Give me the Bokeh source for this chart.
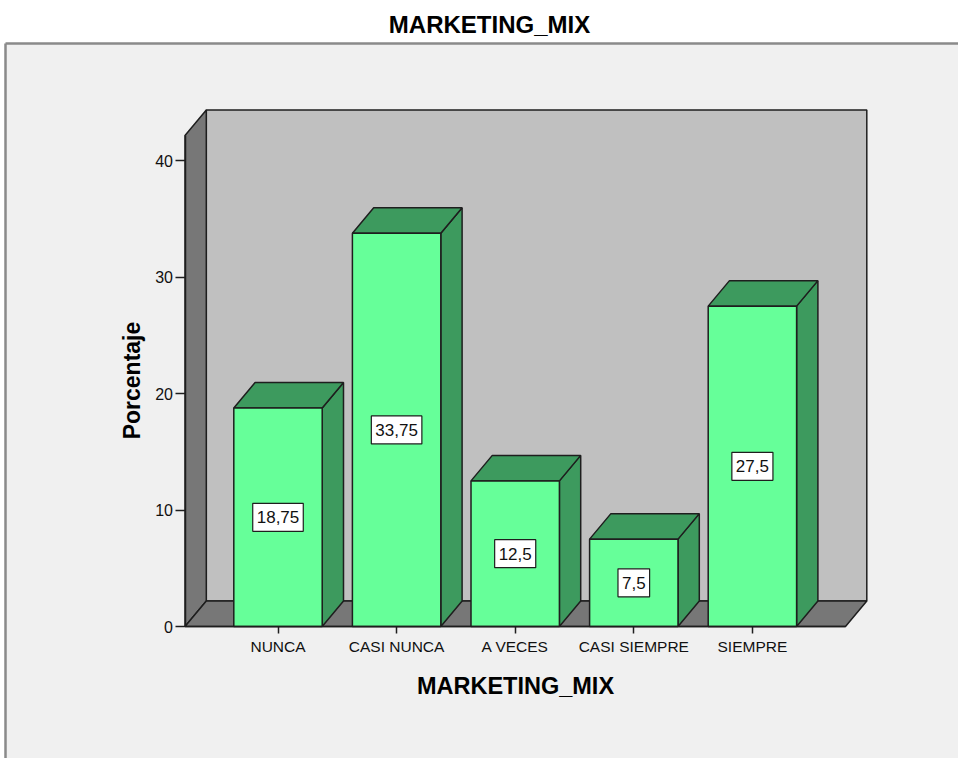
import numpy as np
from bokeh.plotting import figure
from bokeh.models import Range1d, LinearAxis, FixedTicker
from bokeh.core.properties import value
from bokeh.embed import file_html
from bokeh.resources import INLINE

# ---- data -------------------------------------------------------------
categories = ["NUNCA", "CASI NUNCA", "A VECES", "CASI SIEMPRE", "SIEMPRE"]
percentages = [18.75, 33.75, 12.5, 7.5, 27.5]
y_ticks = [0, 10, 20, 30, 40]
chart_title = "MARKETING_MIX"
x_title = "MARKETING_MIX"
y_title = "Porcentaje"

# ---- layout constants (pixel geometry of the canvas) -------------------
W, H = 958, 758
X0, SX = 277.5, 118.6      # pixel of first category, pixels per category
Y0, SY = 626.0, 11.65      # pixel of value 0, pixels per percent unit


def dx(px):
    return (px - X0) / SX


def dy(py):
    return (Y0 - py) / SY


FONT = value("Liberation Sans")
EDGE = "#1e1e1e"
FRONT = "#66FF99"
DARK = "#3D9A5E"
BACK = "#C0C0C0"
WALL = "#777777"
BG = "#F0F0F0"

DEPTH_X = 21.3 / SX
DEPTH_Y = 25.5 / SY
HW = 44.2 / SX
XL, XR = dx(184.5), dx(845.0)
YT = dy(135.0)

p = figure(width=W, height=H, x_range=Range1d(dx(0), dx(W)), y_range=Range1d(dy(H), dy(0)),
           x_axis_type=None, y_axis_type=None, min_border=0, toolbar_location=None,
           output_backend="svg", title=None, outline_line_color=None,
           background_fill_color="white", border_fill_color="white")
p.grid.visible = False

# outer chart frame
p.quad(left=[dx(5)], right=[dx(W + 10)], top=[dy(43)], bottom=[dy(H + 10)],
       fill_color=BG, line_color=None)
p.line([dx(5), dx(W + 10)], [dy(43), dy(43)], line_color="#8A8A8A", line_width=2.5)
p.line([dx(5), dx(5)], [dy(43), dy(H + 10)], line_color="#8A8A8A", line_width=2.5)

# 3D walls
p.quad(left=[XL + DEPTH_X], right=[XR + DEPTH_X], bottom=[DEPTH_Y], top=[YT + DEPTH_Y],
       fill_color=BACK, line_color=EDGE, line_width=1.5)
p.patch([XL, XL, XL + DEPTH_X, XL + DEPTH_X], [0, YT, YT + DEPTH_Y, DEPTH_Y],
        fill_color=WALL, line_color=EDGE, line_width=1.5)
p.patch([XL, XR, XR + DEPTH_X, XL + DEPTH_X], [0, 0, DEPTH_Y, DEPTH_Y],
        fill_color=WALL, line_color=EDGE, line_width=1.5)

# bars
idx = list(range(len(categories)))
side_xs, side_ys, top_xs, top_ys = [], [], [], []
for i, v in zip(idx, percentages):
    side_xs.append([i + HW, i + HW + DEPTH_X, i + HW + DEPTH_X, i + HW])
    side_ys.append([0, DEPTH_Y, v + DEPTH_Y, v])
    top_xs.append([i - HW, i + HW, i + HW + DEPTH_X, i - HW + DEPTH_X])
    top_ys.append([v, v, v + DEPTH_Y, v + DEPTH_Y])
p.patches(side_xs, side_ys, fill_color=DARK, line_color=EDGE, line_width=1.5)
p.patches(top_xs, top_ys, fill_color=DARK, line_color=EDGE, line_width=1.5)
p.quad(left=[i - HW for i in idx], right=[i + HW for i in idx], bottom=0, top=percentages,
       fill_color=FRONT, line_color=EDGE, line_width=1.5)

# value labels
p.text(x=idx, y=[v / 2 for v in percentages],
       text=[("%g" % v).replace(".", ",") for v in percentages],
       text_font=FONT, text_font_size="17px", text_color="#111111",
       text_align="center", text_baseline="middle",
       background_fill_color="white", border_line_color=EDGE, border_line_width=1.2,
       padding=(4, 8))

# axes
yaxis = LinearAxis(fixed_location=XL, ticker=FixedTicker(ticks=y_ticks), bounds=(0, YT))
yaxis.axis_line_color = EDGE
yaxis.axis_line_width = 1.5
yaxis.major_tick_out = 10
yaxis.major_tick_in = 0
yaxis.major_tick_line_color = EDGE
yaxis.major_tick_line_width = 1.5
yaxis.minor_tick_line_color = None
yaxis.major_label_standoff = 2
yaxis.major_label_text_font = "Liberation Sans"
yaxis.major_label_text_font_size = "16px"
yaxis.major_label_text_color = "#111111"
p.add_layout(yaxis, "left")

xaxis = LinearAxis(fixed_location=0, ticker=FixedTicker(ticks=idx), bounds=(XL, XR),
                   major_label_overrides={i: c for i, c in zip(idx, categories)})
xaxis.axis_line_color = EDGE
xaxis.axis_line_width = 1.5
xaxis.major_tick_out = 7
xaxis.major_tick_in = 0
xaxis.major_tick_line_color = EDGE
xaxis.major_tick_line_width = 1.5
xaxis.minor_tick_line_color = None
xaxis.major_label_standoff = 4
xaxis.major_label_text_font = "Liberation Sans"
xaxis.major_label_text_font_size = "15.5px"
xaxis.major_label_text_color = "#111111"
p.add_layout(xaxis, "below")

# titles
p.text(x=[dx(489)], y=[dy(24)], text=[chart_title], text_font=FONT, text_font_style="bold",
       text_font_size="24px", text_align="center", text_baseline="middle", text_color="black")
p.text(x=[dx(515)], y=[dy(685)], text=[x_title], text_font=FONT, text_font_style="bold",
       text_font_size="23.5px", text_align="center", text_baseline="middle", text_color="black")
p.text(x=[dx(131)], y=[dy(380)], text=[y_title], text_font=FONT, text_font_style="bold",
       text_font_size="23px", text_align="center", text_baseline="middle", text_color="black",
       angle=np.pi / 2)

open("out.html", "w").write(file_html(p, INLINE))
